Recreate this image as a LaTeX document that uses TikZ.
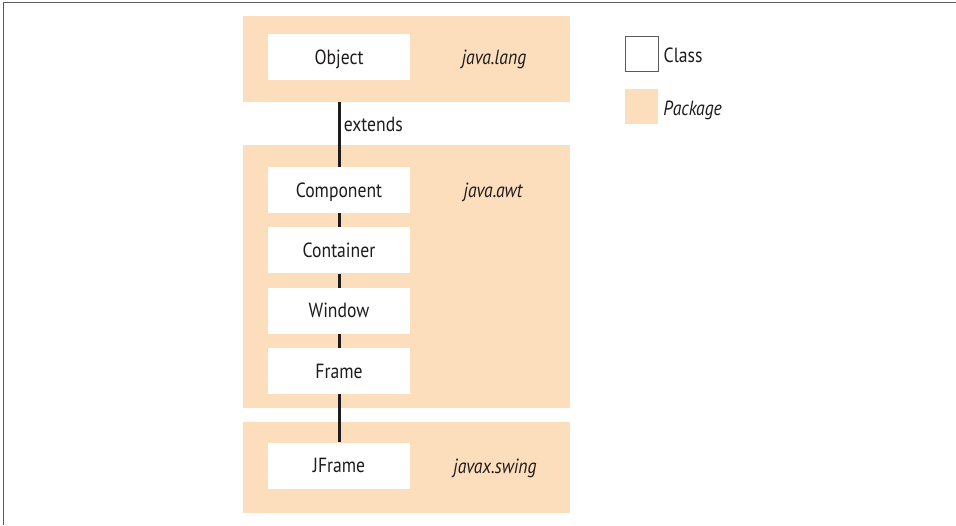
\documentclass[tikz,border=0pt]{standalone}
\usepackage{fontspec}
\setmainfont{PT Sans}[FakeStretch=0.86]
\usetikzlibrary{positioning}
\definecolor{PkgPeach}{RGB}{252,222,188}
\definecolor{InkDark}{RGB}{30,27,28}
\definecolor{FrameGray}{RGB}{90,90,90}

\begin{document}
\begin{tikzpicture}[x=1pt, y=-1pt, font=\fontsize{20.5}{24}\selectfont, text=InkDark,
	rotulo/.style={text height=14pt, text depth=0pt},
	paquete/.style={fill=PkgPeach, minimum width=327pt, inner sep=0pt},
	clase/.style={rotulo, fill=white, minimum width=142pt, minimum height=46pt, inner sep=0pt},
	pkgname/.style={rotulo, font=\fontsize{20.5}{24}\selectfont\itshape},
	hereda/.style={InkDark, line width=3pt},
	node distance=14pt]
	\useasboundingbox (0,0) rectangle (956,525);
	\draw[FrameGray, line width=1.2pt] (956,2.5) -- (3.5,2.5) -- (3.5,525);
	% paquetes
	\node[paquete, minimum height=86pt] (lang) at (406.5,59) {};
	\node[paquete, minimum height=263pt] (awt) at (406.5,276.5) {};
	\node[paquete, minimum height=91pt] (swing) at (406.5,467.5) {};
	\node[pkgname] (langname) at (494,57) {java.lang};
	\node[pkgname] (awtname) at (493,190) {java.awt};
	\node[pkgname] (swingname) at (495,466) {javax.swing};
	% clases
	\node[clase] (obj) at (339,57) {Object};
	\node[clase] (comp) at (339,190) {Component};
	\node[clase, below=of comp] (cont) {Container};
	\node[clase, below=of cont] (win) {Window};
	\node[clase, below=of win] (frame) {Frame};
	\node[clase] (jframe) at (339,465.5) {JFrame};
	\draw[hereda] (obj |- lang.south) -- (comp) node[rotulo, pos=0.35, right] {extends};
	\draw[hereda] (comp) -- (cont);
	\draw[hereda] (cont) -- (win);
	\draw[hereda] (win) -- (frame);
	\draw[hereda] (frame) -- (jframe);
	% leyenda
	\node[draw=FrameGray, line width=1pt, minimum width=33pt, minimum height=35pt, inner sep=0pt] (leyclase) at (641.5,53.5) {};
	\node[rotulo, right=5pt of leyclase, inner sep=0pt, yshift=-1.5pt] (leyclasetxt) {Class};
	\node[fill=PkgPeach, minimum width=33pt, minimum height=35pt, inner sep=0pt] (leypaq) at (641.5,106.5) {};
	\node[pkgname, right=5pt of leypaq, inner sep=0pt, yshift=-2pt] (leypaqtxt) {Package};
\end{tikzpicture}
\end{document}
